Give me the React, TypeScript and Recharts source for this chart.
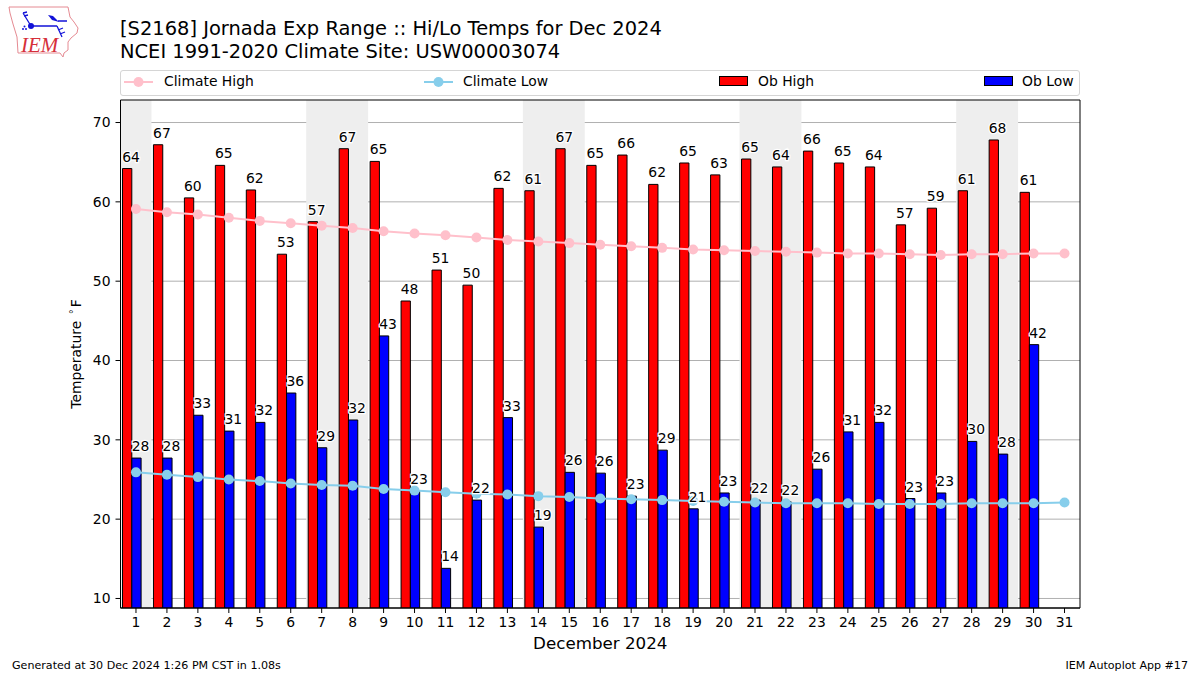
import { Bar, CartesianGrid, ComposedChart, LabelList, Line, ReferenceArea, XAxis, YAxis } from "recharts";

const days = Array.from({ length: 31 }, (_, i) => String(i + 1));
const obHigh = [64.2, 67.2, 60.5, 64.6, 61.5, 53.4, 57.5, 66.7, 65.1, 47.5, 51.4, 49.5, 61.7, 61.4, 66.7, 64.6, 65.9, 62.2, 64.9, 63.4, 65.4, 64.4, 66.4, 64.9, 64.4, 57.1, 59.2, 61.4, 67.8, 61.2, null];
const obLow = [27.7, 27.7, 33.1, 31.1, 32.2, 35.9, 29, 32.5, 43.1, 23.6, 13.8, 22.4, 32.8, 19, 25.9, 25.8, 22.9, 28.7, 21.3, 23.3, 22.4, 22.2, 26.3, 31, 32.2, 22.6, 23.3, 29.8, 28.2, 42, null];
const highLabels = [64, 67, 60, 65, 62, 53, 57, 67, 65, 48, 51, 50, 62, 61, 67, 65, 66, 62, 65, 63, 65, 64, 66, 65, 64, 57, 59, 61, 68, 61, null];
const lowLabels = [28, 28, 33, 31, 32, 36, 29, 32, 43, 23, 14, 22, 33, 19, 26, 26, 23, 29, 21, 23, 22, 22, 26, 31, 32, 23, 23, 30, 28, 42, null];
const climateHigh = [59.1, 58.7, 58.4, 58, 57.6, 57.3, 57, 56.7, 56.3, 56, 55.8, 55.5, 55.2, 55, 54.8, 54.6, 54.4, 54.2, 54, 53.9, 53.8, 53.7, 53.6, 53.5, 53.5, 53.4, 53.3, 53.4, 53.4, 53.5, 53.5];
const climateLow = [25.9, 25.6, 25.3, 25, 24.8, 24.5, 24.3, 24.2, 23.8, 23.6, 23.4, 23.2, 23.1, 22.9, 22.8, 22.6, 22.5, 22.4, 22.3, 22.2, 22.1, 22, 22, 22, 21.9, 21.9, 21.9, 22, 22, 22, 22.1];
const weekends = [["1", "1"], ["7", "8"], ["14", "15"], ["21", "22"], ["28", "29"]];
const yTicks = [10, 20, 30, 40, 50, 60, 70];

const data = days.map((d, i) => ({
  day: d,
  obHigh: obHigh[i],
  obLow: obLow[i],
  highLabel: highLabels[i],
  lowLabel: lowLabels[i],
  climateHigh: climateHigh[i],
  climateLow: climateLow[i],
}));

const font = "'DejaVu Sans', sans-serif";

// value label with the white halo, nudged sideways like the original
function valueLabel(values: (number | null)[], shift: number) {
  return (props: any) => {
    const { x, y, index } = props;
    const v = values[index];
    if (v == null) return null;
    return (
      <text
        x={x + shift}
        y={y - 7}
        textAnchor="middle"
        fontSize={13.9}
        fontFamily={font}
        fill="#000"
        stroke="#fff"
        strokeWidth={2.5}
        paintOrder="stroke"
      >
        {v}
      </text>
    );
  };
}

function YLabel() {
  return (
    <text
      transform="translate(81 354) rotate(-90)"
      textAnchor="middle"
      fontSize={13.9}
      fontFamily={font}
      fill="#000"
    >
      {"Temperature "}
      <tspan dx={2} dy={-4} fontSize={10}>{"°"}</tspan>
      <tspan dx={2} dy={4}>{"F"}</tspan>
    </text>
  );
}

function LegendLine({ color }: { color: string }) {
  return (
    <svg width={29} height={12} style={{ display: "block" }}>
      <line x1={0} x2={29} y1={6} y2={6} stroke={color} strokeWidth={2} />
      <circle cx={14.5} cy={6} r={5} fill={color} />
    </svg>
  );
}

function LegendBox({ color }: { color: string }) {
  return (
    <svg width={29} height={11} style={{ display: "block" }}>
      <rect x={0.5} y={0.5} width={28} height={9} fill={color} stroke="#000" />
    </svg>
  );
}

const legendItems = [
  { name: "Climate High", left: 124, textLeft: 164, swatch: <LegendLine color="#ffc0cb" /> },
  { name: "Climate Low", left: 424, textLeft: 463, swatch: <LegendLine color="#87ceeb" /> },
  { name: "Ob High", left: 719, textLeft: 758, swatch: <LegendBox color="#ff0000" /> },
  { name: "Ob Low", left: 984, textLeft: 1022, swatch: <LegendBox color="#0000ff" /> },
];

function Logo() {
  return (
    <svg width={90} height={60} style={{ position: "absolute", left: 0, top: 0 }}>
      <path
        d="M9 7 L68 7 L70 17 L74 22 L78 28 L77 33 L71 38 L68 42 L68 50 L64 53 L63 57 L60 53 L18 53 L17 37 L13 24 L10 13 Z"
        fill="#fff"
        stroke="#e58a92"
        strokeWidth={1}
      />
      <path
        d="M31 26 L57 26 M57 26 L62 37 M31 26 L23 13 M23 13 L27 12 M24 16 L28 15 M58 30 L63 28 M60 34 L65 32 M58 21 L67 21"
        stroke="#1212d8"
        strokeWidth={1.3}
        fill="none"
      />
      <circle cx={31} cy={26} r={3} fill="#1212d8" />
      <circle cx={23} cy={29} r={1} fill="#1212d8" />
      <circle cx={26} cy={29} r={1} fill="#1212d8" />
      <circle cx={24.5} cy={26.5} r={1} fill="#1212d8" />
      <path d="M48 15 L53 16 L59 22 L52 20 Z" fill="#1212d8" />
      <text x={21} y={52} fontSize={21} fontStyle="italic" fontFamily="'Liberation Serif', serif" fill="#d62f3a">
        IEM
      </text>
    </svg>
  );
}

export default function App() {
  return (
    <div style={{ position: "absolute", left: 0, top: 0, width: 1200, height: 675, background: "#fff", fontFamily: font, color: "#000" }}>
      <Logo />
      <div style={{ position: "absolute", left: 120, top: 17, fontSize: 19.45, lineHeight: "23px", whiteSpace: "pre" }}>
        {"[S2168] Jornada Exp Range :: Hi/Lo Temps for Dec 2024\nNCEI 1991-2020 Climate Site: USW00003074"}
      </div>
      <div
        style={{
          position: "absolute",
          left: 120,
          top: 70,
          width: 958,
          height: 23.5,
          border: "1px solid #d5d5d5",
          borderRadius: 3,
        }}
      />
      {legendItems.map((item) => (
        <div key={item.name} style={{ position: "absolute", left: item.left, top: 70, height: 23, display: "flex", alignItems: "center" }}>
          {item.swatch}
        </div>
      ))}
      {legendItems.map((item) => (
        <div key={item.name} style={{ position: "absolute", left: item.textLeft, top: 70, height: 23, lineHeight: "23px", fontSize: 13.9 }}>
          {item.name}
        </div>
      ))}
      <div style={{ position: "absolute", left: 0, top: 0 }}>
        <ComposedChart
          width={1200}
          height={675}
          data={data}
          margin={{ top: 100, right: 120, bottom: 42, left: 60 }}
          barSize={9.3}
          barGap={0}
        >
          {weekends.map(([a, b]) => (
            <ReferenceArea key={a} x1={a} x2={b} fill="#eeeeee" fillOpacity={1} stroke="none" />
          ))}
          <CartesianGrid horizontal vertical={false} stroke="#b0b0b0" strokeOpacity={1} syncWithTicks />
          <XAxis
            dataKey="day"
            interval={0}
            tick={{ fontSize: 13.9, fontFamily: font, fill: "#000" }}
            tickLine={{ stroke: "#000" }}
            axisLine={{ stroke: "#000" }}
            tickSize={5}
            tickMargin={4}
            height={25}
            label={{ value: "December 2024", position: "insideBottom", offset: -16, fontSize: 16.7, fontFamily: font, fill: "#000" }}
          />
          <YAxis
            type="number"
            domain={[8.8, 72.84]}
            allowDataOverflow
            ticks={yTicks}
            tick={{ fontSize: 13.9, fontFamily: font, fill: "#000" }}
            tickLine={{ stroke: "#000" }}
            axisLine={{ stroke: "#000" }}
            tickSize={5}
            tickMargin={5}
            width={60.5}
            label={<YLabel />}
          />
          <Bar dataKey="obHigh" fill="#ff0000" stroke="#000" strokeWidth={1} isAnimationActive={false} />
          <Bar dataKey="obLow" fill="#0000ff" stroke="#000" strokeWidth={1} isAnimationActive={false} />
          {/* empty third slot keeps the pair off-centre, matching the original's bar offsets */}
          <Bar dataKey="spacer" fill="none" isAnimationActive={false} />
          <Line dataKey="climateHigh" stroke="#ffc0cb" strokeWidth={2} dot={{ r: 5, fill: "#ffc0cb", stroke: "#ffc0cb", strokeWidth: 0 }} isAnimationActive={false} />
          <Line dataKey="climateLow" stroke="#87ceeb" strokeWidth={2} dot={{ r: 5, fill: "#87ceeb", stroke: "#87ceeb", strokeWidth: 0 }} isAnimationActive={false} />
          <Line dataKey="obHigh" stroke="none" dot={false} legendType="none" isAnimationActive={false}>
            <LabelList dataKey="highLabel" content={valueLabel(highLabels, -5)} />
          </Line>
          <Line dataKey="obLow" stroke="none" dot={false} legendType="none" isAnimationActive={false}>
            <LabelList dataKey="lowLabel" content={valueLabel(lowLabels, 4.5)} />
          </Line>
          <ReferenceArea x1="1" x2="31" fill="none" stroke="#000" strokeWidth={1} />
        </ComposedChart>
      </div>
      <div style={{ position: "absolute", left: 12, top: 659, fontSize: 11.1 }}>Generated at 30 Dec 2024 1:26 PM CST in 1.08s</div>
      <div style={{ position: "absolute", right: 12, top: 659, fontSize: 11.1 }}>IEM Autoplot App #17</div>
    </div>
  );
}
